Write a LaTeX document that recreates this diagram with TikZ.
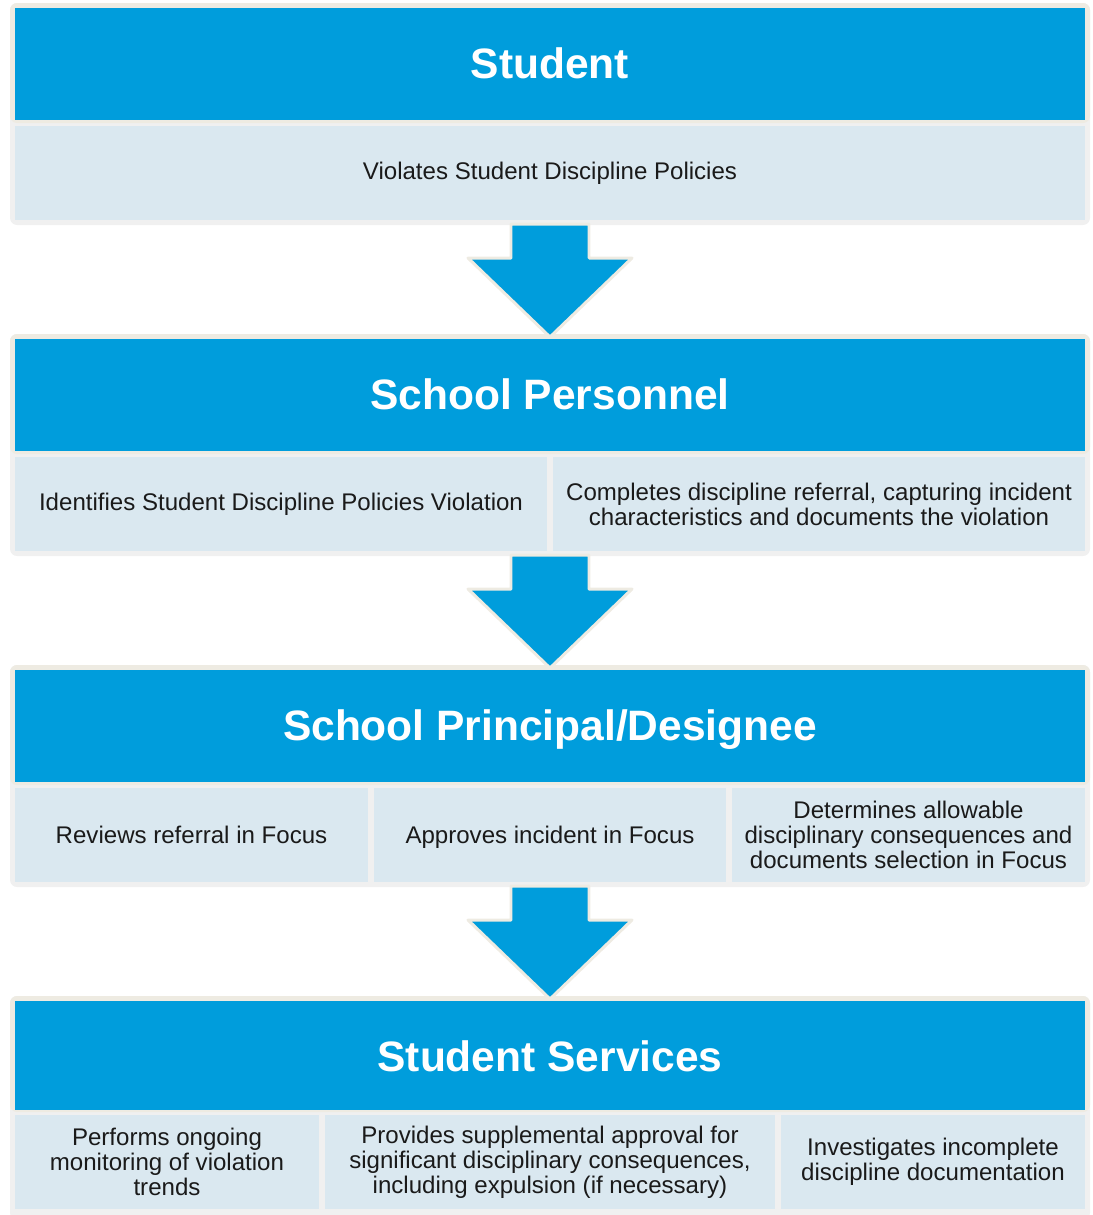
\documentclass[tikz,border=0pt]{standalone}
\usepackage{fontspec}
\setmainfont{Liberation Sans}
\usepackage{xcolor}
\usepackage{tikz}
\definecolor{headblue}{HTML}{009DDC}
\definecolor{cellbg}{HTML}{DAE8F0}
\definecolor{rimtop}{HTML}{EEEBE2}
\definecolor{rimlow}{HTML}{F0F0F0}
\definecolor{ink}{HTML}{1A1A1A}
\tikzset{
  head/.style={fill=headblue},
  cell/.style={fill=cellbg},
  rimt/.style={fill=rimtop, rounded corners=4},
  riml/.style={fill=rimlow, rounded corners=4},
  title/.style={text=white, anchor=base, font=\fontsize{24.2}{29}\selectfont\bfseries},
  lab/.style={text=ink, font=\fontsize{13.7}{14.2}\selectfont, align=center, inner sep=0pt},
  flow/.style={fill=headblue, draw=rimtop, line width=1.7pt, line join=round},
}

\begin{document}
\begin{tikzpicture}[x=0.02cm, y=-0.02cm]
  \useasboundingbox (0,0) rectangle (1093,1215);
  % panel 1
  \fill[riml] (10,3) rectangle (1090,225);
  \fill[rimt] (10,3) rectangle (1090,123);
  \fill[head] (15,8) rectangle (1085,120);
  \fill[cell] (15,126) rectangle (1085,220);
  \node[title] (stu) at (550,78) {Student};
  \node[lab] (stuviol) at (550,173) {Violates Student Discipline Policies};
  % panel 2
  \fill[riml] (10,334) rectangle (1090,556);
  \fill[rimt] (10,334) rectangle (1090,454);
  \fill[head] (15,339) rectangle (1085,451);
  \foreach \a/\b in {15/547,553/1085} {\fill[cell] (\a,457) rectangle (\b,551);}
  \node[title] (per) at (550,409) {School Personnel};
  \node[lab] (perid) at (281,504) {Identifies Student Discipline Policies Violation};
  \node[lab] (perref) at (819,504) {Completes discipline referral, capturing incident\\characteristics and documents the violation};
  % panel 3
  \fill[riml] (10,665) rectangle (1090,887);
  \fill[rimt] (10,665) rectangle (1090,785);
  \fill[head] (15,670) rectangle (1085,782);
  \foreach \a/\b in {15/368,374/726,732/1085} {\fill[cell] (\a,788) rectangle (\b,882);}
  \node[title] (pri) at (550,740) {School Principal/Designee};
  \node[lab] (prirev) at (191.5,835) {Reviews referral in Focus};
  \node[lab] (priapp) at (550,837) {Approves incident in Focus};
  \node[lab] (pridet) at (908.5,835) {Determines allowable\\disciplinary consequences and\\documents selection in Focus};
  % panel 4
  \fill[riml] (10,996) rectangle (1090,1220);
  \fill[rimt] (10,996) rectangle (1090,1112);
  \fill[head] (15,1001) rectangle (1085,1110);
  \foreach \a/\b in {15/319,325/775,781/1085} {\fill[cell] (\a,1115) rectangle (\b,1209);}
  \node[title] (svc) at (550,1071) {Student Services};
  \node[lab] (svcmon) at (167,1162) {Performs ongoing\\monitoring of violation\\trends};
  \node[lab] (svcsup) at (550,1162) {Provides supplemental approval for\\significant disciplinary consequences,\\including expulsion (if necessary)};
  \node[lab] (svcinv) at (933,1162) {Investigates incomplete\\discipline documentation};
  % down arrows between panels
  \foreach \t in {224,555,886} {
    \draw[flow] (511,\t) -- (589,\t) -- (589,\t+34) -- (632,\t+34) -- (550,\t+113)
      -- (468,\t+34) -- (511,\t+34) -- cycle;
  }
\end{tikzpicture}
\end{document}
